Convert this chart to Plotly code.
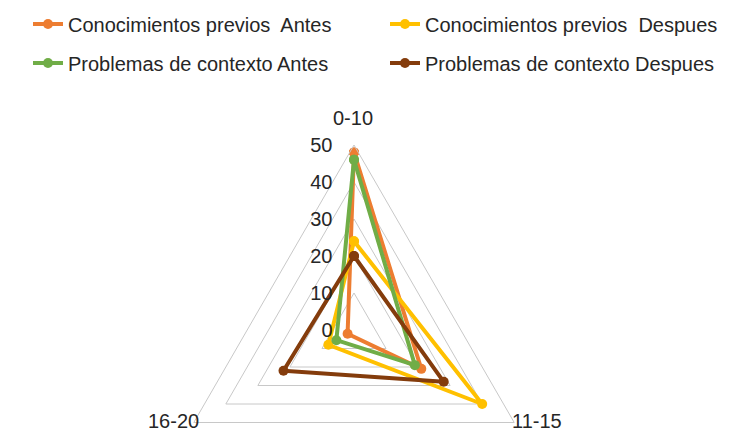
import plotly.graph_objects as go

categories = ["0-10", "11-15", "16-20"]
series_names = [
    "Conocimientos previos  Antes",
    "Conocimientos previos  Despues",
    "Problemas de contexto Antes",
    "Problemas de contexto Despues",
]
conoc_antes = [48, 21, 2]
conoc_despues = [24, 40, 8]
prob_antes = [46, 19, 5.5]
prob_despues = [20, 28, 22]
radial_ticks = [0, 10, 20, 30, 40, 50]

colors = ["#ED7D31", "#FFC000", "#70AD47", "#843C0C"]
legends = ["legend", "legend2", "legend3", "legend4"]
all_values = [conoc_antes, conoc_despues, prob_antes, prob_despues]

W, H = 729, 520
FONT = "Liberation Sans, Arial"
TXT = "#262626"
GRID = "#C8C8C8"

fig = go.Figure()
for name, vals, col, lg in zip(series_names, all_values, colors, legends):
    fig.add_trace(go.Scatterpolar(
        r=vals + vals[:1],
        theta=categories + categories[:1],
        mode="lines+markers",
        name=name,
        line=dict(color=col, width=4),
        marker=dict(color=col, size=10),
        legend=lg,
    ))

# polar circle: center (354, 330), radius 185 px
cx, cy, R = 354, 330, 185
# category label anchor points (pixels from top-left)
cat_label_pos = [(353, 118, "center"), (510, 421, "left"), (201, 421, "right")]
for cat, (px, py, al) in zip(categories, cat_label_pos):
    fig.add_annotation(
        text=cat, x=px / W, y=1 - py / H, xref="paper", yref="paper",
        xanchor=al, yanchor="middle", showarrow=False,
        font=dict(size=20, color=TXT, family=FONT),
    )

leg_common = dict(orientation="h", xanchor="left", yanchor="middle",
                  font=dict(size=20, color=TXT, family=FONT),
                  bgcolor="rgba(0,0,0,0)")
leg_pos = [(28, 24), (385, 24), (28, 63), (385, 63)]

fig.update_layout(
    width=W, height=H,
    margin=dict(l=0, r=0, t=0, b=0),
    paper_bgcolor="white",
    plot_bgcolor="white",
    font=dict(family=FONT, size=20, color=TXT),
    polar=dict(
        domain=dict(x=[(cx - R) / W, (cx + R) / W],
                    y=[(H - (cy + R)) / H, (H - (cy - R)) / H]),
        bgcolor="rgba(0,0,0,0)",
        gridshape="linear",
        radialaxis=dict(
            range=[0, 50], tickvals=radial_ticks, angle=90, tickangle=90,
            side="counterclockwise", showline=False,
            gridcolor=GRID, gridwidth=1,
            ticks="outside", ticklen=14, tickcolor="rgba(0,0,0,0)",
            tickfont=dict(size=20, color=TXT),
        ),
        angularaxis=dict(
            direction="clockwise", rotation=90,
            showgrid=False, showline=True, linecolor=GRID, linewidth=1,
            ticks="", showticklabels=False,
        ),
    ),
    showlegend=True,
)
for lg, (lx, ly) in zip(legends, leg_pos):
    fig.update_layout({lg: dict(x=lx / W, y=1 - ly / H, **leg_common)})

fig.write_html(
    "out.html",
    post_script="document.body.style.overflow='hidden';document.documentElement.style.overflow='hidden';document.body.style.margin='0';",
)
